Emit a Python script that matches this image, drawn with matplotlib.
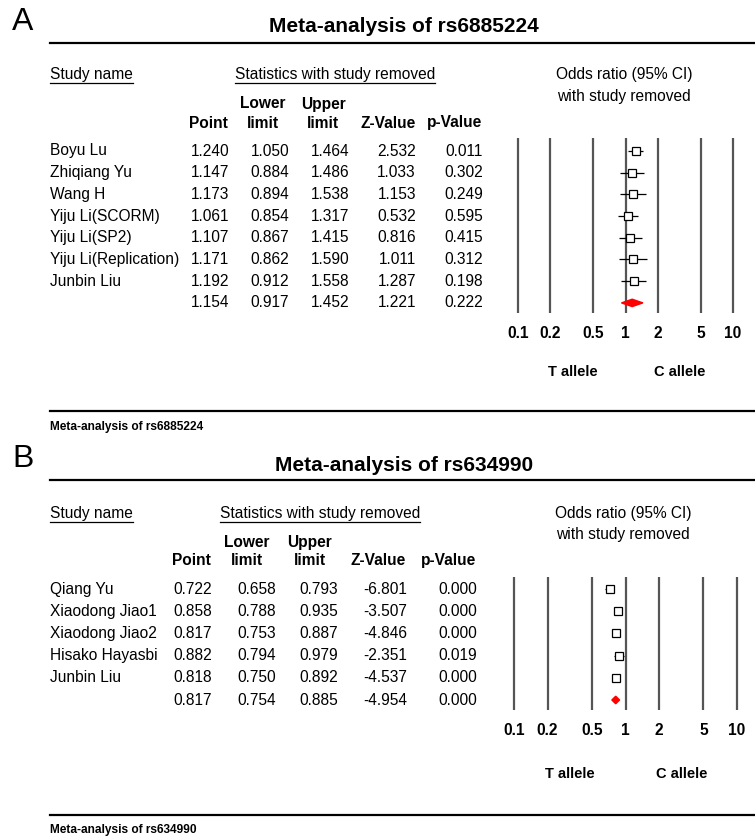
import matplotlib
matplotlib.use("Agg")
import matplotlib.pyplot as plt
from matplotlib.patches import Polygon
import numpy as np

plt.rcParams['font.family'] = ['Liberation Sans', 'DejaVu Sans']

# ---- data: panel A (rs6885224)
studies_a = ["Boyu Lu", "Zhiqiang Yu", "Wang H", "Yiju Li(SCORM)", "Yiju Li(SP2)",
             "Yiju Li(Replication)", "Junbin Liu"]
point_a = [1.240, 1.147, 1.173, 1.061, 1.107, 1.171, 1.192]
lower_a = [1.050, 0.884, 0.894, 0.854, 0.867, 0.862, 0.912]
upper_a = [1.464, 1.486, 1.538, 1.317, 1.415, 1.590, 1.558]
z_a = [2.532, 1.033, 1.153, 0.532, 0.816, 1.011, 1.287]
p_a = [0.011, 0.302, 0.249, 0.595, 0.415, 0.312, 0.198]
summary_a = [1.154, 0.917, 1.452, 1.221, 0.222]   # point, lower, upper, z, p

# ---- data: panel B (rs634990)
studies_b = ["Qiang Yu", "Xiaodong Jiao1", "Xiaodong Jiao2", "Hisako Hayasbi", "Junbin Liu"]
point_b = [0.722, 0.858, 0.817, 0.882, 0.818]
lower_b = [0.658, 0.788, 0.753, 0.794, 0.750]
upper_b = [0.793, 0.935, 0.887, 0.979, 0.892]
z_b = [-6.801, -3.507, -4.846, -2.351, -4.537]
p_b = [0.000, 0.000, 0.000, 0.019, 0.000]
summary_b = [0.817, 0.754, 0.885, -4.954, 0.000]

ticks = [0.1, 0.2, 0.5, 1, 2, 5, 10]
tick_labels = ["0.1", "0.2", "0.5", "1", "2", "5", "10"]

W, H = 755, 838
FS = 11.2

fig = plt.figure(figsize=(W / 100, H / 100), dpi=100)
ov = fig.add_axes([0, 0, 1, 1])
ov.set_xlim(0, W)
ov.set_ylim(H, 0)
ov.axis('off')


def underline(t, pad=3):
    fig.canvas.draw()
    bb = t.get_window_extent()
    inv = ov.transData.inverted()
    (xa, ya), (xb, yb) = inv.transform([[bb.x0, bb.y0], [bb.x1, bb.y1]])
    ov.plot([xa, xb], [ya + pad - 2, ya + pad - 2], color='black', lw=0.9)


def panel(letter, title, names, pt, lo, hi, zv, pv, summ, L):
    ov.text(12, L['letter_y'], letter, fontsize=23, ha='left', va='center')
    ov.text(404, L['title_y'], title, fontsize=15, fontweight='bold', ha='center', va='center')
    ov.plot([50, W], [L['rule1'], L['rule1']], color='black', lw=1.6)
    ov.plot([50, W], [L['rule2'], L['rule2']], color='black', lw=1.6)
    ov.text(50, L['foot_y'], title, fontsize=8.6, fontweight='bold', ha='left', va='center')

    t = ov.text(50, L['head_y'], "Study name", fontsize=FS, ha='left', va='center')
    underline(t)
    t = ov.text(L['stats_x'], L['head_y'], "Statistics with study removed", fontsize=FS,
                ha='left', va='center')
    underline(t)
    ov.text(L['odds_x'], L['odds_y'], "Odds ratio (95% CI)", fontsize=FS, ha='center', va='center')
    ov.text(L['odds_x'], L['odds_y'] + 21, "with study removed", fontsize=FS, ha='center', va='center')

    hx = L['hdr_x']
    bold = dict(fontsize=FS, fontweight='bold', va='center')
    ov.text(hx[0], L['h2_y'], "Point", ha='right', **bold)
    ov.text(hx[1], L['h1_y'], "Lower", ha='center', **bold)
    ov.text(hx[1], L['h2_y'], "limit", ha='center', **bold)
    ov.text(hx[2], L['h1_y'], "Upper", ha='center', **bold)
    ov.text(hx[2], L['h2_y'], "limit", ha='center', **bold)
    ov.text(hx[3], L['h2_y'], "Z-Value", ha='right', **bold)
    ov.text(hx[4], L['h2_y'], "p-Value", ha='right', **bold)

    cx = L['col_x']
    all_rows = list(zip(names + [""], pt + [summ[0]], lo + [summ[1]], hi + [summ[2]],
                        zv + [summ[3]], pv + [summ[4]]))
    for i, (nm, a, b, c, d, e) in enumerate(all_rows):
        y = L['row0'] + i * L['dy']
        ov.text(50, y, nm, fontsize=FS, ha='left', va='center')
        for x, v in zip(cx, (a, b, c, d, e)):
            ov.text(x, y, f"{v:.3f}", fontsize=FS, ha='right', va='center')

    # forest plot axes, mapped to pixel box
    x0, x1, yt, yb = L['fx0'], L['fx1'], L['fyt'], L['fyb']
    ax = fig.add_axes([x0 / W, 1 - yb / H, (x1 - x0) / W, (yb - yt) / H])
    ax.set_xscale('log')
    ax.set_xlim(0.1, 10)
    n = len(names) + 1
    ax.set_ylim((yb - L['row0']) / L['dy'], (yt - L['row0']) / L['dy'])
    for s in ax.spines.values():
        s.set_visible(False)
    ax.set_yticks([])
    ax.set_xticks(ticks, tick_labels)
    ax.minorticks_off()
    ax.tick_params(axis='x', length=0, pad=9, labelsize=FS)
    for lab in ax.get_xticklabels():
        lab.set_fontweight('bold')
    ax.vlines(ticks, 0, 1, transform=ax.get_xaxis_transform(), color='#555555',
              lw=1.6, clip_on=False)
    rows = np.arange(len(names))
    ax.hlines(rows, lo, hi, color='black', lw=0.9, zorder=3)
    ax.plot(pt, rows, ls='none', marker='s', ms=5.2, mfc='white', mec='black', mew=0.9, zorder=4)
    ys = n - 1
    dh = 0.17
    ax.add_patch(Polygon([[summ[1], ys], [summ[0], ys - dh], [summ[2], ys], [summ[0], ys + dh]],
                         closed=True, color='red', zorder=4))

    ov.text(L['t_x'], L['allele_y'], "T allele", fontsize=10.5, fontweight='bold', ha='center', va='center')
    ov.text(L['c_x'], L['allele_y'], "C allele", fontsize=10.5, fontweight='bold', ha='center', va='center')


layout_a = dict(letter_y=22, title_y=26, rule1=43, rule2=411, foot_y=427, head_y=75,
                stats_x=235, odds_x=624, odds_y=75, h1_y=104, h2_y=123,
                hdr_x=[228, 263, 323, 416, 482], col_x=[229, 289, 349, 416, 483],
                row0=151, dy=21.7, fx0=518, fx1=733, fyt=138, fyb=313,
                allele_y=372, t_x=573, c_x=680)
layout_b = dict(letter_y=459, title_y=465, rule1=480, rule2=815, foot_y=830, head_y=513,
                stats_x=220, odds_x=623, odds_y=513, h1_y=542, h2_y=560,
                hdr_x=[211, 247, 310, 406, 476], col_x=[212, 276, 338, 407, 477],
                row0=589, dy=22.2, fx0=514, fx1=737, fyt=577, fyb=710,
                allele_y=774, t_x=570, c_x=682)

panel("A", "Meta-analysis of rs6885224", studies_a, point_a, lower_a, upper_a, z_a, p_a,
      summary_a, layout_a)
panel("B", "Meta-analysis of rs634990", studies_b, point_b, lower_b, upper_b, z_b, p_b,
      summary_b, layout_b)

fig.savefig("out.png", dpi=100)
